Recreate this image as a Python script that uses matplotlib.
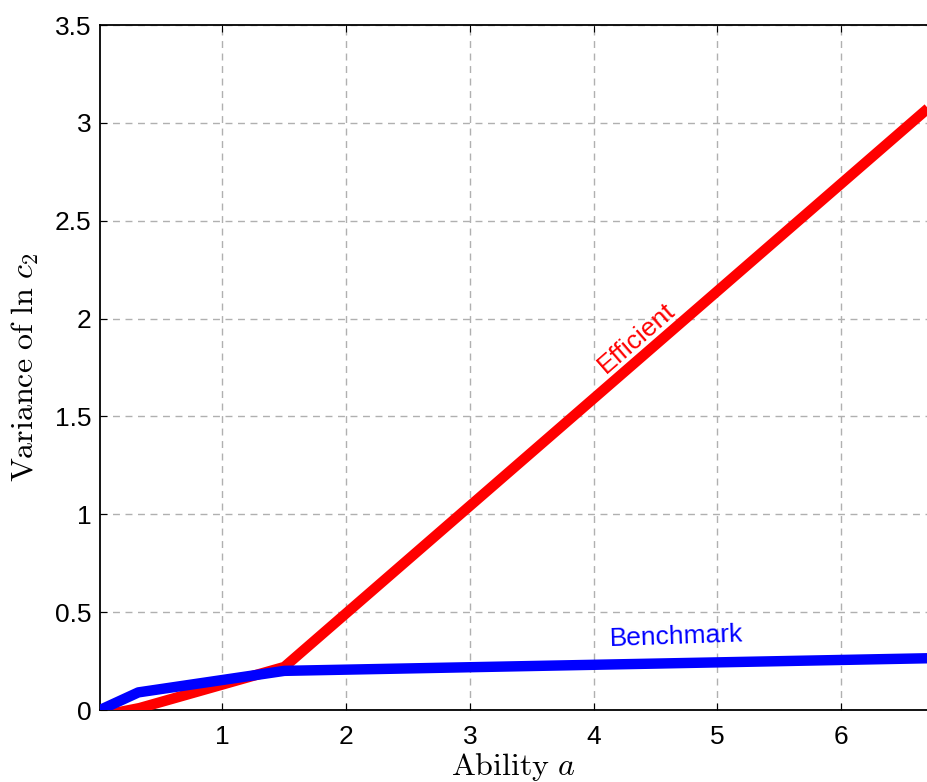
import matplotlib
matplotlib.use('Agg')
import matplotlib.pyplot as plt

# values
ability_eff = [0.01, 0.33, 1.5, 6.75]
var_eff = [-0.03, 0.01, 0.22, 3.10]

ability_bench = [0.01, 0.32, 1.5, 6.75]
var_bench = [0.0, 0.09, 0.20, 0.265]

x_ticks = [1, 2, 3, 4, 5, 6]
y_ticks = [0, 0.5, 1, 1.5, 2, 2.5, 3, 3.5]
y_ticklabels = ['0', '0.5', '1', '1.5', '2', '2.5', '3', '3.5']

plt.rcParams['font.family'] = ['Liberation Sans', 'DejaVu Sans']
plt.rcParams['mathtext.fontset'] = 'cm'

fig = plt.figure(figsize=(9.27, 7.82), dpi=100)
ax = fig.add_axes([100 / 927, 72 / 782, 1 - 100 / 927, 685 / 782])

ax.plot(ability_eff, var_eff, color='red', lw=7.5, solid_capstyle='butt', zorder=3)
ax.plot(ability_bench, var_bench, color='blue', lw=7.5, solid_capstyle='butt', zorder=4)

ax.set_xlim(0.01, 6.695)
ax.set_ylim(0, 3.5)
ax.set_xticks(x_ticks)
ax.set_yticks(y_ticks)
ax.set_yticklabels(y_ticklabels)
ax.tick_params(direction='in', labelsize=19, length=5, width=0.8, top=True)
ax.tick_params(axis='x', pad=11)
ax.tick_params(axis='y', pad=6)
ax.grid(True, color='#b0b0b0', linestyle=(0, (5, 4)), linewidth=1)
ax.spines['right'].set_visible(False)
for s in ['left', 'top', 'bottom']:
    ax.spines[s].set_linewidth(1.3)

# label sits right at the bottom edge, as in the original
ax.set_xlabel(r'$\mathrm{Ability}\ a$', fontsize=23, labelpad=1)
ax.set_ylabel(r'$\mathrm{Variance\ of}\ \ln\,c_2$', fontsize=23, labelpad=10)

ax.text(4.35, 1.9, 'Efficient', color='red', fontsize=19, rotation=41,
        ha='center', va='center')
ax.text(4.67, 0.375, 'Benchmark', color='blue', fontsize=19, rotation=2,
        ha='center', va='center')

fig.savefig('out.png', dpi=100)
